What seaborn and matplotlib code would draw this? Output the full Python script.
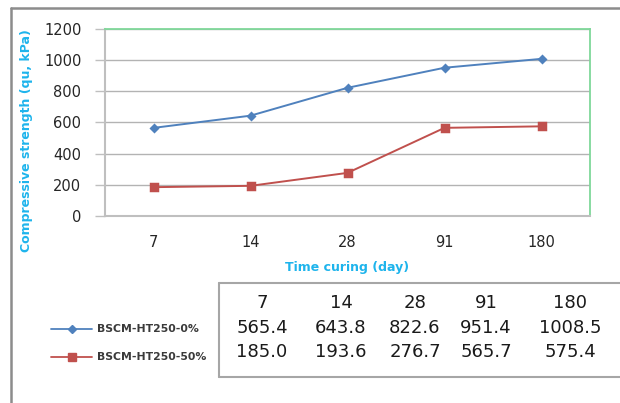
import matplotlib
matplotlib.use("Agg")
import matplotlib.pyplot as plt
from matplotlib.lines import Line2D
import pandas as pd
import seaborn as sns

# Curing times (days) and compressive strength (qu, kPa) per mix
days = ["7", "14", "28", "91", "180"]
series_names = ["BSCM-HT250-0%", "BSCM-HT250-50%"]
strength_0 = [565.4, 643.8, 822.6, 951.4, 1008.5]
strength_50 = [185.0, 193.6, 276.7, 565.7, 575.4]
y_ticks = [0, 200, 400, 600, 800, 1000, 1200]

colors = ["#4F81BD", "#C0504D"]
markers = ["D", "s"]
marker_sizes = [3.6, 5.2]

df = pd.DataFrame({
    "day": days * 2,
    "strength": strength_0 + strength_50,
    "series": [series_names[0]] * len(days) + [series_names[1]] * len(days),
})

sns.set_theme(style="white")
plt.rcParams["font.family"] = ["DejaVu Sans"]

fig = plt.figure(figsize=(6.2, 4.03), dpi=100)
ax = fig.add_axes([105 / 620, 1 - 216 / 403, 485 / 620, 187 / 403])

for name, col, mk, ms in zip(series_names, colors, markers, marker_sizes):
    sns.pointplot(data=df[df["series"] == name], x="day", y="strength",
                  order=days, color=col, marker=mk, markersize=ms,
                  linewidth=1.4, errorbar=None, ax=ax)

ax.set_xlim(-0.5, len(days) - 0.5)
ax.set_ylim(0, 1200)
ax.set_yticks(y_ticks)
ax.set_yticklabels([str(t) for t in y_ticks], fontsize=10.5, color="#262626")
ax.tick_params(axis="x", length=0, pad=14, labelsize=10.5, labelcolor="#262626")
ax.tick_params(axis="y", length=7, width=1, color="#BFBFBF", pad=10, left=True)
ax.yaxis.grid(True, color="#B3B3B3", linewidth=1)
ax.set_axisbelow(True)
ax.set_xlabel("")
ax.set_ylabel("")

for side in ["left", "bottom"]:
    ax.spines[side].set_color("#BFBFBF")
    ax.spines[side].set_linewidth(1.5)
for side in ["top", "right"]:
    ax.spines[side].set_color("#7FD89A")
    ax.spines[side].set_linewidth(1.3)

cyan = "#1EB4EC"
fig.text(27 / 620, 1 - 141 / 403, "Compressive strength (qu, kPa)", rotation=90,
         ha="center", va="center", fontsize=9, fontweight="bold", color=cyan)
fig.text(347 / 620, 1 - 267 / 403, "Time curing (day)", ha="center", va="center",
         fontsize=9, fontweight="bold", color=cyan)

# Outer frame (top and left edges)
frame_col = "#8C8C8C"
fig.add_artist(Line2D([11 / 620, 1.0], [1 - 8 / 403, 1 - 8 / 403],
                      transform=fig.transFigure, color=frame_col, linewidth=1.8))
fig.add_artist(Line2D([11 / 620, 11 / 620], [0.0, 1 - 8 / 403],
                      transform=fig.transFigure, color=frame_col, linewidth=1.8))

# Data table below the chart
box_col = "#A6A6A6"
tl, tt, tb = 219 / 620, 1 - 283 / 403, 1 - 377 / 403
fig.add_artist(Line2D([tl, 1.0], [tt, tt], transform=fig.transFigure,
                      color=box_col, linewidth=1.5))
fig.add_artist(Line2D([tl, 1.0], [tb, tb], transform=fig.transFigure,
                      color=box_col, linewidth=1.5))
fig.add_artist(Line2D([tl, tl], [tb, tt], transform=fig.transFigure,
                      color=box_col, linewidth=1.5))

col_x = [262, 341, 415, 486, 570]
row_y = [303, 328, 352]
rows = [days,
        [f"{v:.1f}" for v in strength_0],
        [f"{v:.1f}" for v in strength_50]]
for ry, row in zip(row_y, rows):
    for cx, txt in zip(col_x, row):
        fig.text(cx / 620, 1 - ry / 403, txt, ha="center", va="center",
                 fontsize=13, color="#1A1A1A")

# Legend keys next to the table rows
key_y = [329, 357]
for ky, name, col, mk, ms in zip(key_y, series_names, colors, markers, marker_sizes):
    yy = 1 - ky / 403
    fig.add_artist(Line2D([51 / 620, 92 / 620], [yy, yy], transform=fig.transFigure,
                          color=col, linewidth=1.3))
    fig.add_artist(Line2D([72 / 620], [yy], transform=fig.transFigure, color=col,
                          marker=mk, markersize=ms, linestyle="none"))
    fig.text(97 / 620, yy, name, ha="left", va="center", fontsize=7.8,
             fontweight="bold", color="#3A3A3A")

fig.savefig("out.png", dpi=100)
